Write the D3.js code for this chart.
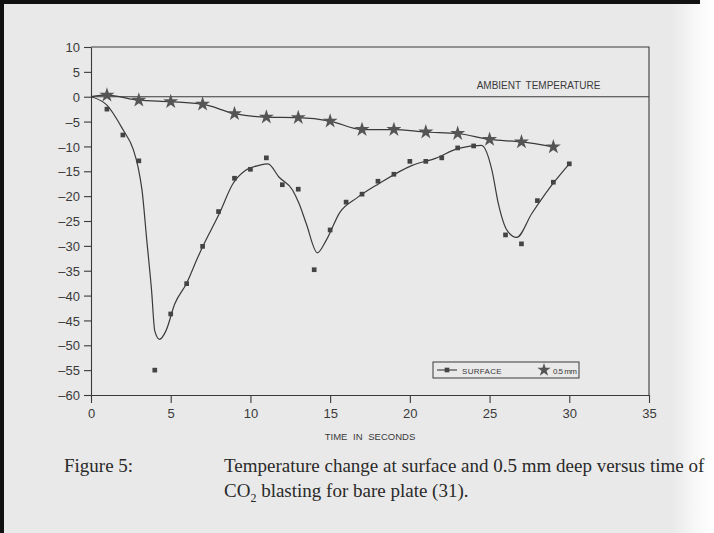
<!DOCTYPE html>
<html>
<head>
<meta charset="utf-8">
<script src="https://cdn.jsdelivr.net/npm/d3@7"></script>
<style>
  html, body { margin: 0; padding: 0; background: #fff; }
  svg { display: block; }
</style>
</head>
<body>
<svg></svg>
<script>
// page and plot geometry
const width = 714, height = 533;
const margin = { top: 47, right: 63, bottom: 138, left: 91 };

// measured points at the surface (squares)
const surfaceTime = [1, 2, 3, 4, 5, 6, 7, 8, 9, 10, 11, 12, 13, 14, 15, 16, 17, 18, 19, 20, 21, 22, 23, 24, 26, 27, 28, 29, 30];
const surfaceTemp = [-2.5, -7.7, -12.9, -55, -43.7, -37.6, -30.1, -23.1, -16.4, -14.6, -12.3, -17.7, -18.6, -34.8, -26.8, -21.2,
                     -19.6, -17.0, -15.6, -13.0, -13.0, -12.3, -10.3, -9.9, -27.8, -29.6, -20.9, -17.2, -13.5];

// hand-drawn fitted curve through the surface data
const fitTime = [0, 1, 2, 2.65, 2.95, 3.2, 3.5, 3.8, 4.0, 4.3, 4.7, 5.25, 6.0, 6.7, 7.0, 8.05, 8.9, 9.7, 10.55, 11.1,
                 11.8, 12.65, 13.05, 13.5, 14.2, 14.75, 15.6, 16.7, 18.05, 20.15, 21.6, 23.05, 24.5, 25.15, 25.55, 26.1,
                 26.7, 27.65, 28.9, 30];
const fitTemp = [0, -1.7, -6.6, -10.6, -14.1, -18.8, -28.9, -39, -47.1, -48.8, -47.1, -41.7, -37.5, -32.3, -30.2, -23.5,
                 -17.5, -14.8, -13.8, -13.5, -16.2, -18.8, -21.5, -25.5, -31.4, -28.9, -23.3, -20.3, -17.5, -13.8, -12.4,
                 -10.4, -9.8, -14.8, -21.5, -26.9, -28.3, -23.5, -17.8, -13.5];

// 0.5 mm deep (stars)
const starTime = [1, 3, 5, 7, 9, 11, 13, 15, 17, 19, 21, 23, 25, 27, 29];
const starTemp = [0.3, -0.7, -1.0, -1.5, -3.4, -4.1, -4.2, -4.9, -6.6, -6.6, -7.1, -7.4, -8.6, -9.1, -10.1];

// ticks
const xTicks = [0, 5, 10, 15, 20, 25, 30, 35];
const yTicks = [10, 5, 0, -5, -10, -15, -20, -25, -30, -35, -40, -45, -50, -55, -60];

const ink = "#3a3a3a";

const svg = d3.select("svg")
    .attr("width", width)
    .attr("height", height);

// scanned page background
const defs = svg.append("defs");
const grad = defs.append("linearGradient").attr("id", "edge").attr("x1", 0).attr("x2", 1);
grad.append("stop").attr("offset", "0%").attr("stop-color", "#e9e9e9");
grad.append("stop").attr("offset", "94%").attr("stop-color", "#e9e9e9");
grad.append("stop").attr("offset", "97%").attr("stop-color", "#f6f6f6");
grad.append("stop").attr("offset", "100%").attr("stop-color", "#ffffff");
svg.append("rect").attr("width", width).attr("height", height).attr("fill", "url(#edge)");
svg.append("rect").attr("x", 0).attr("y", 0).attr("width", 700).attr("height", 4).attr("fill", "#111");
svg.append("rect").attr("x", 0).attr("y", 0).attr("width", 4).attr("height", height).attr("fill", "#111");

// scales
const x = d3.scaleLinear().domain([0, 35]).range([margin.left, width - margin.right - 2]);
const y = d3.scaleLinear().domain([-60, 10]).range([height - margin.bottom, margin.top]);

const g = svg.append("g")
    .attr("font-family", "'Liberation Sans', Arial, sans-serif")
    .attr("fill", ink);

// frame (top and right)
g.append("path")
    .attr("d", `M${x(0)},${y(10)}H${x(35)}V${y(-60)}`)
    .attr("fill", "none").attr("stroke", ink).attr("stroke-width", 1.1);

// y axis
const yAxis = g.append("g")
    .attr("transform", `translate(${x(0)},0)`)
    .call(d3.axisLeft(y).tickValues(yTicks).tickSize(7).tickPadding(4).tickSizeOuter(0)
      .tickFormat(d => d < 0 ? "\u2013" + Math.abs(d) : String(d)));

// x axis
const xAxis = g.append("g")
    .attr("transform", `translate(0,${y(-60)})`)
    .call(d3.axisBottom(x).tickValues(xTicks).tickSize(8).tickPadding(6).tickSizeOuter(0));

[yAxis, xAxis].forEach(a => {
  a.select(".domain").attr("stroke", ink).attr("stroke-width", 1.1);
  a.selectAll(".tick line").attr("stroke", ink).attr("stroke-width", 1.1);
  a.selectAll(".tick text").attr("fill", ink)
    .style("font-size", "13px")
    .style("font-family", "'Liberation Sans', Arial, sans-serif");
});
yAxis.selectAll(".tick text").attr("dy", "0.36em");

g.append("text")
    .attr("x", x(17.5)).attr("y", 440)
    .attr("text-anchor", "middle")
    .attr("font-size", 9.5)
    .attr("word-spacing", 3)
    .text("TIME IN SECONDS");

// ambient temperature line
g.append("line")
    .attr("x1", x(0)).attr("x2", x(35))
    .attr("y1", y(0)).attr("y2", y(0))
    .attr("stroke", ink).attr("stroke-width", 1.1);
g.append("text")
    .attr("x", x(31.95)).attr("y", y(0) - 8)
    .attr("text-anchor", "end")
    .attr("font-size", 10)
    .attr("word-spacing", 2)
    .text("AMBIENT TEMPERATURE");

// surface fitted curve
const line = d3.line()
    .x(d => x(d[0]))
    .y(d => y(d[1]))
    .curve(d3.curveMonotoneX);

g.append("path")
    .datum(fitTime.map((t, i) => [t, fitTemp[i]]))
    .attr("d", line)
    .attr("fill", "none").attr("stroke", ink).attr("stroke-width", 1.2);

// 0.5 mm curve
g.append("path")
    .datum([[0, 0]].concat(starTime.map((t, i) => [t, starTemp[i]])))
    .attr("d", line)
    .attr("fill", "none").attr("stroke", ink).attr("stroke-width", 1.2);

// surface squares
const square = d3.symbol().type(d3.symbolSquare).size(22);
g.selectAll(".sq")
    .data(surfaceTime.map((t, i) => [t, surfaceTemp[i]]))
    .join("path")
    .attr("class", "sq")
    .attr("transform", d => `translate(${x(d[0])},${y(d[1])})`)
    .attr("d", square)
    .attr("fill", "#444");

// stars
const star = d3.symbol().type(d3.symbolStar).size(70);
g.selectAll(".st")
    .data(starTime.map((t, i) => [t, starTemp[i]]))
    .join("path")
    .attr("class", "st")
    .attr("transform", d => `translate(${x(d[0])},${y(d[1])})`)
    .attr("d", star)
    .attr("fill", "#555");

// legend
const lg = g.append("g").attr("transform", `translate(433,362)`);
lg.append("rect").attr("width", 146).attr("height", 16)
    .attr("fill", "none").attr("stroke", ink).attr("stroke-width", 1);
lg.append("line").attr("x1", 4).attr("x2", 24).attr("y1", 8).attr("y2", 8)
    .attr("stroke", ink).attr("stroke-width", 1.1);
lg.append("path").attr("transform", "translate(14,8)").attr("d", square).attr("fill", "#444");
lg.append("text").attr("x", 29).attr("y", 11.5).attr("font-size", 8).attr("letter-spacing", 0.3).text("SURFACE");
lg.append("path").attr("transform", "translate(111,8)")
    .attr("d", d3.symbol().type(d3.symbolStar).size(55)).attr("fill", "#555");
lg.append("text").attr("x", 120).attr("y", 11.5).attr("font-size", 8)
    .attr("textLength", 24).attr("lengthAdjust", "spacing").text("0.5 mm");

// caption
const cap = svg.append("g")
    .attr("font-family", "'Liberation Serif', 'Times New Roman', serif")
    .attr("font-size", 19)
    .attr("fill", "#2a2a2a");
cap.append("text").attr("x", 64).attr("y", 472).text("Figure 5:");
cap.append("text").attr("x", 224).attr("y", 472)
    .text("Temperature change at surface and 0.5 mm deep versus time of");
const c2 = cap.append("text").attr("x", 224).attr("y", 497);
c2.append("tspan").text("CO");
c2.append("tspan").attr("font-size", 12).attr("dy", 5).text("2");
c2.append("tspan").attr("dy", -5).text(" blasting for bare plate (31).");
</script>
</body>
</html>
